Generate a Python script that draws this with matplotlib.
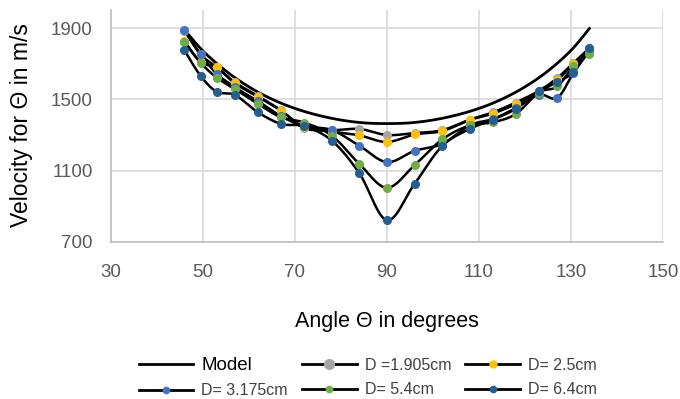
import numpy as np
import matplotlib
matplotlib.use('Agg')
import matplotlib.pyplot as plt
from matplotlib.lines import Line2D

plt.rcParams['font.family'] = ['Liberation Sans', 'DejaVu Sans']

# data
angles = [46, 49.5, 53, 57, 62, 67, 72, 78, 84, 90, 96, 102, 108, 113, 118, 123, 127, 130.5, 134]
d_1905 = [1885, 1752, 1681, 1595, 1518, 1439, 1339, 1327, 1334, 1300, 1311, 1327, 1386, 1427, 1482, 1547, 1619, 1703, 1787]
d_25 = [1826, 1708, 1679, 1589, 1514, 1436, 1345, 1319, 1298, 1261, 1303, 1322, 1384, 1420, 1473, 1538, 1607, 1700, 1782]
d_3175 = [1889, 1753, 1644, 1567, 1489, 1406, 1349, 1328, 1240, 1148, 1211, 1250, 1354, 1390, 1451, 1526, 1508, 1646, 1772]
d_54 = [1823, 1706, 1622, 1557, 1474, 1399, 1370, 1297, 1138, 1004, 1131, 1275, 1354, 1371, 1418, 1538, 1572, 1685, 1757]
d_64 = [1775, 1632, 1543, 1524, 1427, 1362, 1349, 1269, 1086, 822, 1026, 1238, 1334, 1386, 1447, 1548, 1597, 1654, 1790]

model_angles = [46, 50, 55, 60, 65, 70, 75, 80, 85, 90, 95, 100, 105, 110, 115, 120, 125, 130, 134]
model = [1890, 1772, 1659, 1570, 1501, 1449, 1411, 1384, 1368, 1364, 1368, 1384, 1411, 1449, 1501, 1570, 1659, 1774, 1897]

labels = ['D =1.905cm', 'D= 2.5cm', 'D= 3.175cm', 'D= 5.4cm', 'D= 6.4cm']
colors = ['#A5A5A5', '#FFC000', '#4472C4', '#70AD47', '#255E91']


def smooth(x, y, n=24):
    # Excel style smoothed line (Catmull-Rom as Bezier), done in pixel-like units
    sx, sy = 4.6, 0.179
    p = np.column_stack([np.asarray(x, float) * sx, np.asarray(y, float) * sy])
    p = np.vstack([p[0], p, p[-1]])
    t = np.linspace(0, 1, n)[:, None]
    out = []
    for i in range(1, len(p) - 2):
        p0, p1, p2, p3 = p[i - 1], p[i], p[i + 1], p[i + 2]
        c1 = p1 + (p2 - p0) / 6
        c2 = p2 - (p3 - p1) / 6
        seg = (1 - t) ** 3 * p1 + 3 * (1 - t) ** 2 * t * c1 + 3 * (1 - t) * t ** 2 * c2 + t ** 3 * p2
        out.append(seg)
    out = np.vstack(out)
    return out[:, 0] / sx, out[:, 1] / sy


fig = plt.figure(figsize=(6.8, 3.99), dpi=100)
ax = fig.add_axes([0.163, 0.3935, 0.812, 0.581])

mx, my = smooth(model_angles, model)
ax.plot(mx, my, color='black', lw=2.0, zorder=3)

for vals, col in zip([d_1905, d_25, d_3175, d_54, d_64], colors):
    sx_, sy_ = smooth(angles, vals)
    ax.plot(sx_, sy_, color='black', lw=1.8, zorder=3)
    ax.plot(angles, vals, 'o', color=col, ms=5.5, mec=col, zorder=4)

ax.set_xlim(30, 150)
ax.set_ylim(700, 2000)
ax.set_xticks(range(30, 151, 20))
ax.set_yticks([700, 1100, 1500, 1900])
ax.grid(True, color='#D9D9D9', lw=1.2)
ax.set_axisbelow(True)
for s in ['top', 'right']:
    ax.spines[s].set_visible(False)
for s in ['left', 'bottom']:
    ax.spines[s].set_color('#BFBFBF')
    ax.spines[s].set_linewidth(1.2)
ax.tick_params(length=0, labelsize=13.5, labelcolor='#595959')
ax.tick_params(axis='x', pad=16)
ax.tick_params(axis='y', pad=13)

ax.set_xlabel('Angle Θ in degrees', fontsize=15.5, va='center')
ax.xaxis.set_label_coords(0.5, -0.345)
ax.set_ylabel('Velocity for Θ in m/s', fontsize=16.5, va='center')
ax.yaxis.set_label_coords(-0.161, 0.504)

# legend: row 1 Model, 1.905, 2.5 / row 2 3.175, 5.4, 6.4
h_model = Line2D([], [], color='black', lw=2)
h = [Line2D([], [], color='black', lw=2, marker='o', ms=m, mfc=c, mec=c)
     for c, m in zip(colors, [7, 5, 4.5, 4.5, 4.5])]
handles = [h_model, h[2], h[0], h[3], h[1], h[4]]
names = ['Model', labels[2], labels[0], labels[3], labels[1], labels[4]]
leg = fig.legend(handles, names, ncol=3, loc='center', bbox_to_anchor=(0.541, 0.054),
                 frameon=False, fontsize=11.5, handlelength=3.4, handletextpad=0.5,
                 columnspacing=0.9, labelspacing=0.6)
for txt in leg.get_texts():
    txt.set_color('#404040')
leg.get_texts()[0].set_fontsize(13.5)
leg.get_texts()[0].set_color('black')

fig.savefig('out.png', dpi=100)
